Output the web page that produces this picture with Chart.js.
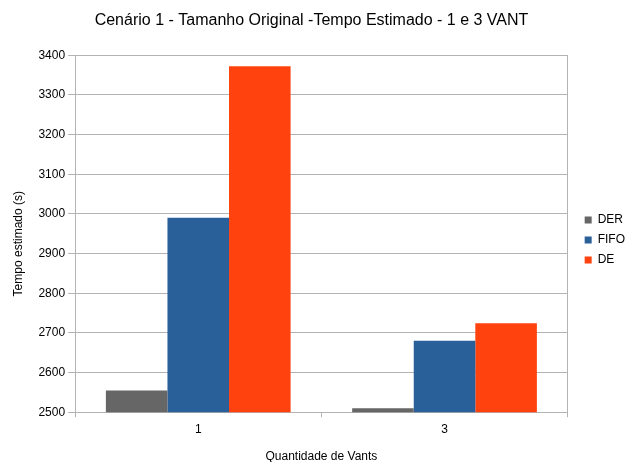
<!DOCTYPE html>
<html>
<head>
<meta charset="utf-8">
<script src="https://cdn.jsdelivr.net/npm/chart.js@4"></script>
<style>
  html, body { margin: 0; padding: 0; background: #fff; }
  #wrap { width: 626px; height: 462px; }
</style>
</head>
<body>
<div id="wrap"><canvas id="chart" width="626" height="462"></canvas></div>
<script>
// Tempo estimado por quantidade de VANTs
const categories = ['1', '3'];
const derValues = [2555, 2510];
const fifoValues = [2990, 2680];
const deValues = [3372, 2724];
const yTicks = [2500, 2600, 2700, 2800, 2900, 3000, 3100, 3200, 3300, 3400];

const font = 'Liberation Sans, Arial, sans-serif';
const lineColor = '#b3b3b3';

const ctx = document.getElementById('chart').getContext('2d');
new Chart(ctx, {
  type: 'bar',
  data: {
    labels: categories,
    datasets: [
      { label: 'DER', data: derValues, backgroundColor: '#666666' },
      { label: 'FIFO', data: fifoValues, backgroundColor: '#2a6099' },
      { label: 'DE', data: deValues, backgroundColor: '#ff420e' }
    ]
  },
  options: {
    responsive: false,
    animation: false,
    layout: { padding: { top: 3, right: -9, bottom: -2, left: -12 } },
    datasets: {
      bar: { categoryPercentage: 0.75, barPercentage: 1.0 }
    },
    plugins: {
      title: {
        display: true,
        text: 'Cenário 1 - Tamanho Original -Tempo Estimado - 1 e 3 VANT',
        color: '#000',
        font: { family: font, size: 16, weight: 'normal' },
        padding: { top: 8, bottom: 25 }
      },
      legend: {
        position: 'right',
        // empty title just pushes the items down a little
        title: { display: true, text: '', font: { size: 11 }, padding: 0 },
        labels: {
          color: '#000',
          font: { family: font, size: 12 },
          boxWidth: 7,
          boxHeight: 7,
          padding: 8
        }
      },
      tooltip: { enabled: false }
    },
    scales: {
      x: {
        grid: {
          offset: true,
          drawOnChartArea: false,
          color: lineColor,
          tickLength: 5
        },
        border: { color: lineColor },
        ticks: { color: '#000', font: { family: font, size: 12 }, padding: 5 },
        title: {
          display: true,
          text: 'Quantidade de Vants',
          color: '#000',
          font: { family: font, size: 12 },
          padding: { top: 8, bottom: 0 }
        }
      },
      y: {
        min: 2500,
        max: 3400,
        afterBuildTicks(axis) {
          axis.ticks = yTicks.map(v => ({ value: v }));
        },
        grid: { color: lineColor, tickLength: 7 },
        border: { color: lineColor },
        ticks: {
          color: '#000',
          font: { family: font, size: 12 },
          padding: 3,
          callback: v => String(v)
        },
        title: {
          display: true,
          text: 'Tempo estimado (s)      ',
          color: '#000',
          font: { family: font, size: 12 },
          padding: { top: 23, bottom: 10 }
        }
      },
      // right wall of the plot, also keeps the legend a bit away
      wall: {
        position: 'right',
        display: true,
        ticks: { display: false },
        grid: { display: false },
        border: { color: lineColor },
        afterFit(scale) {
          scale.width = 9;
        }
      }
    }
  }
});
</script>
</body>
</html>
